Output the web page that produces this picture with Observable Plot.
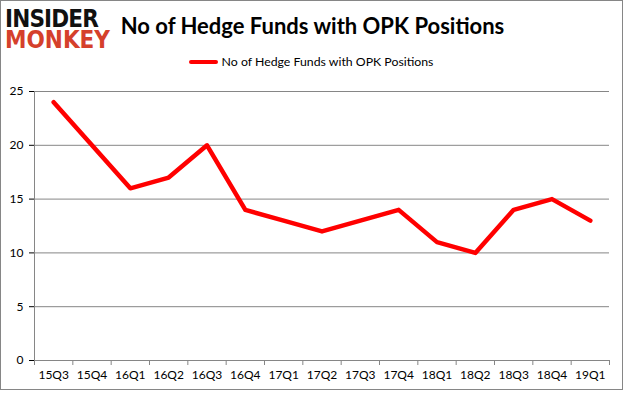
<!DOCTYPE html>
<html><head><meta charset="utf-8">
<script src="https://cdn.jsdelivr.net/npm/d3@7"></script>
<script src="https://cdn.jsdelivr.net/npm/@observablehq/plot@0.6"></script>
<style>
body{margin:0;background:#fff;}
#wrap{position:relative;width:625px;height:395px;overflow:hidden;font-family:Lato,"Open Sans",sans-serif;background:#fff;}
#frame{position:absolute;left:0;top:0;width:623px;height:390px;border:1px solid #868686;box-sizing:border-box;pointer-events:none;}
#logo{position:absolute;left:5px;top:8px;font-family:"DejaVu Sans",sans-serif;font-weight:bold;white-space:pre;transform-origin:0 0;line-height:21px;font-size:25.5px;color:#d5402b;}
#title{position:absolute;top:12px;left:0;width:625px;text-align:center;font-weight:bold;font-size:22px;color:#000;white-space:nowrap;}
#legend{position:absolute;top:54px;left:0;width:622px;text-align:center;font-size:12.3px;color:#000;white-space:nowrap;}
#legend .sw{display:inline-block;width:29px;height:4px;background:#ff0000;border-radius:2px;vertical-align:middle;margin-right:4px;position:relative;top:-1px;}
#chart{position:absolute;left:0;top:80px;}
</style><style id="dyn"></style></head>
<body>
<div id="wrap">
  <div id="logo"></div>
  <div id="title"></div>
  <div id="legend"><span class="sw"></span><span id="legtext"></span></div>
  <div id="chart"></div>
  <div id="frame"></div>
</div>
<script>
const logoWords = ["INSIDER", "MONKEY"];
const chartTitle = "No of Hedge Funds with OPK Positions";
const seriesName = "No of Hedge Funds with OPK Positions";
const quarters = ["15Q3","15Q4","16Q1","16Q2","16Q3","16Q4","17Q1","17Q2","17Q3","17Q4","18Q1","18Q2","18Q3","18Q4","19Q1"];
const funds = [24, 20, 16, 17, 20, 14, 13, 12, 13, 14, 11, 10, 14, 15, 13];
const yTicks = [0, 5, 10, 15, 20, 25];

document.getElementById("title").textContent = chartTitle;
document.getElementById("legtext").textContent = seriesName;

// logo: one text node, first line dark, second line red
const logo = document.getElementById("logo");
logo.textContent = logoWords.join("\n");
const node = logo.firstChild;
function lineWidth(a, b) {
  const r = document.createRange();
  r.setStart(node, a); r.setEnd(node, b);
  return r.getBoundingClientRect().width;
}
const w1 = lineWidth(0, logoWords[0].length);
const w2 = lineWidth(logoWords[0].length + 1, node.length);
const s = 105 / w2;
const ls = (93 / s - w1) / logoWords[0].length;
document.getElementById("dyn").textContent = `#logo::first-line{color:#111;letter-spacing:${ls}px;}`;
logo.style.transform = `scale(${s}, 1)`;

const data = quarters.map((q, i) => ({q, i, v: funds[i]}));
const boundaries = d3.range(quarters.length + 1).map(i => i - 0.5);

const chart = Plot.plot({
  width: 625,
  height: 315,
  marginTop: 11,
  marginBottom: 35,
  marginLeft: 34,
  marginRight: 16,
  style: {fontFamily: "Lato, 'Open Sans', sans-serif", fontSize: "12px", color: "#000", background: "transparent"},
  x: {domain: [-0.5, quarters.length - 0.5], ticks: d3.range(quarters.length), tickFormat: i => quarters[i], tickSize: 0, tickPadding: 10, label: null},
  y: {domain: [0, 25], ticks: yTicks, tickSize: 5, tickPadding: 6, label: null},
  marks: [
    Plot.ruleY(yTicks.filter(t => t > 0), {stroke: "#868686", strokeWidth: 1}),
    Plot.ruleY([0], {stroke: "#868686", strokeWidth: 1}),
    Plot.ruleX([-0.5], {y1: 0, y2: 25, stroke: "#868686"}),
    Plot.ruleX(boundaries, {y1: 0, y2: 0, insetBottom: -5, stroke: "#868686"}),
    Plot.line(data, {x: "i", y: "v", stroke: "#ff0000", strokeWidth: 4.5, strokeLinejoin: "round", strokeLinecap: "round"})
  ]
});
document.getElementById("chart").appendChild(chart);
</script>
</body></html>
